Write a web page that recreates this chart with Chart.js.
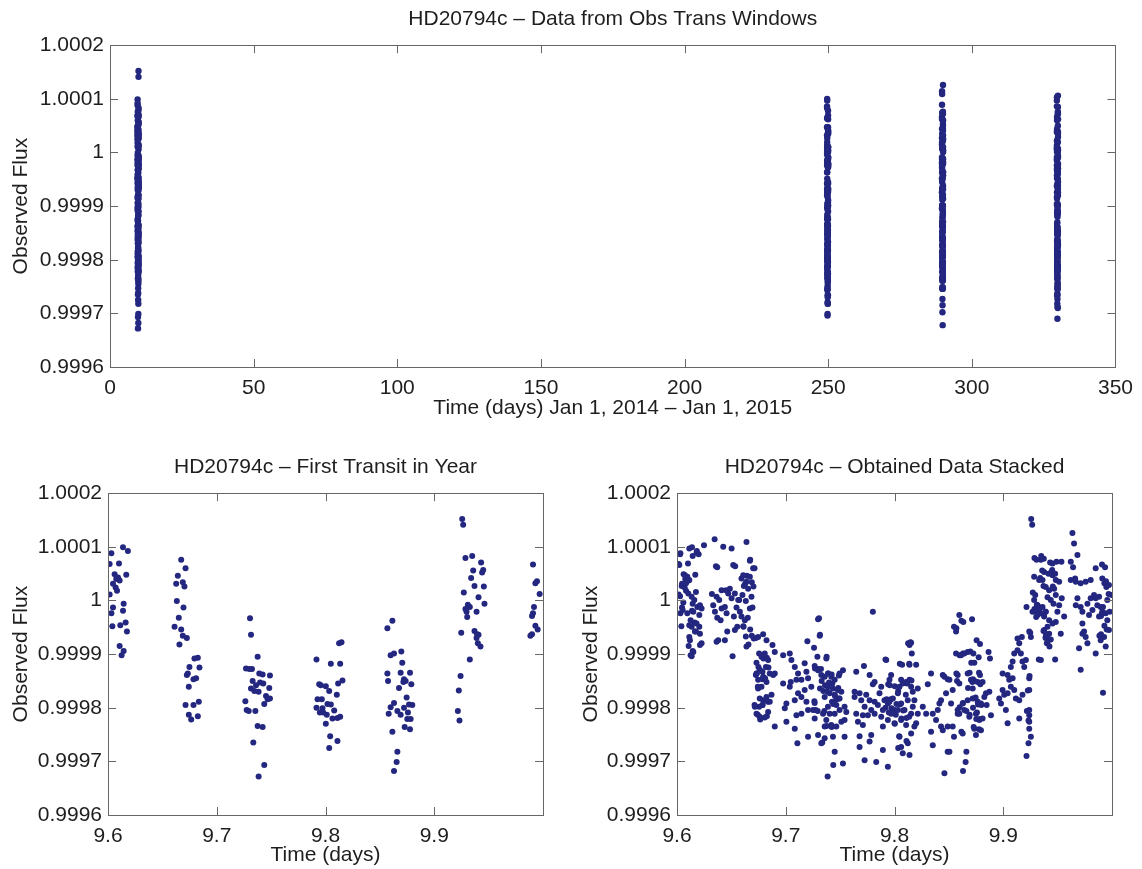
<!DOCTYPE html>
<html lang="en">
<head>
  <meta charset="UTF-8">
  <title>HD20794c transit data</title>
  <script src="https://cdn.jsdelivr.net/npm/chart.js"></script>
  <style>
    body {
      margin: 0;
      background: #fff;
      width: 1142px;
      height: 869px;
      position: relative;
      overflow: hidden;
    }
    canvas {
      position: absolute;
    }
  </style>
</head>
<body>
  <canvas id="yearChart" width="1142" height="422" style="left:0;top:0;"></canvas>
  <canvas id="firstChart" width="560" height="429" style="left:0;top:440px;"></canvas>
  <canvas id="stackChart" width="572" height="429" style="left:570px;top:440px;"></canvas>

  <script>
    // tick values
    const fluxTicks = [0.9996, 0.9997, 0.9998, 0.9999, 1, 1.0001, 1.0002];
    const yearTicks = [0, 50, 100, 150, 200, 250, 300, 350];
    const phaseTicks = [9.6, 9.7, 9.8, 9.9];

    // later observing windows start this many days after the first one
    const windowShift = [240, 280, 320];

    // [time in days, flux deviation in ppm]
    const firstTransit = [
      [9.6031,88],[9.6015,68],[9.6101,69],[9.6138,99],[9.6183,92],[9.6168,48],[9.6061,49],[9.6076,40],[9.6092,43],
      [9.6107,37],[9.6046,31],[9.6070,24],[9.6083,18],[9.6015,11],[9.6046,-13],[9.6031,-24],[9.6144,-6],[9.6138,-19],
      [9.6040,-48],[9.6113,-46],[9.6162,-41],[9.6174,-58],[9.6107,-85],[9.6144,-94],[9.6125,-102],
      [9.6673,76],[9.6713,60],[9.6642,46],[9.6627,31],[9.6688,34],[9.6703,26],[9.6633,-1],[9.6694,-13],[9.6651,-32],
      [9.6612,-49],[9.6673,-54],[9.6688,-66],[9.6725,-70],[9.6657,-82],[9.6826,-107],[9.6795,-108],[9.6841,-125],
      [9.6749,-124],[9.6734,-136],[9.6725,-139],[9.6810,-145],[9.6786,-147],[9.6743,-161],[9.6713,-195],[9.6786,-195],
      [9.6835,-189],[9.6743,-213],[9.6765,-222],[9.6826,-216],
      [9.7306,-33],[9.7315,-64],[9.7376,-105],[9.7269,-127],[9.7300,-128],[9.7324,-128],[9.7391,-136],[9.7422,-138],
      [9.7489,-140],[9.7330,-150],[9.7361,-158],[9.7398,-153],[9.7428,-155],[9.7483,-163],[9.7315,-164],[9.7346,-169],
      [9.7385,-170],[9.7453,-178],[9.7468,-184],[9.7489,-183],[9.7263,-188],[9.7294,-206],[9.7275,-204],[9.7355,-206],
      [9.7437,-193],[9.7376,-234],[9.7422,-236],[9.7336,-265],[9.7437,-307],[9.7385,-328],
      [9.7917,-110],[9.7942,-156],[9.7957,-158],[9.7927,-184],[9.7917,-200],[9.7948,-209],[9.7979,-209],[9.7966,-184],
      [9.7972,-201],[9.8003,-160],[9.8034,-169],[9.8018,-193],[9.8049,-194],[9.8012,-213],[9.8080,-205],[9.8064,-220],
      [9.8110,-219],[9.8135,-217],[9.8003,-230],[9.8043,-253],[9.8034,-275],[9.8110,-262],[9.8104,-176],[9.8049,-118],
      [9.8135,-118],[9.8116,-155],[9.8156,-149],[9.8125,-80],[9.8147,-78],
      [9.8569,-52],[9.8615,-38],[9.8599,-102],[9.8630,-99],[9.8697,-95],[9.8706,-116],[9.8569,-136],[9.8575,-150],
      [9.8691,-135],[9.8777,-135],[9.8722,-147],[9.8737,-150],[9.8676,-163],[9.8789,-156],[9.8716,-152],[9.8630,-191],
      [9.8599,-199],[9.8581,-211],[9.8661,-206],[9.8691,-213],[9.8746,-181],[9.8722,-200],[9.8768,-194],[9.8798,-195],
      [9.8758,-209],[9.8783,-221],[9.8752,-221],[9.8728,-236],[9.8777,-240],[9.8615,-245],[9.8661,-282],[9.8654,-301],
      [9.8630,-318],
      [9.9257,152],[9.9266,141],[9.9287,79],[9.9349,83],[9.9431,71],[9.9358,56],[9.9339,42],[9.9450,57],[9.9440,52],
      [9.9370,27],[9.9456,26],[9.9272,15],[9.9407,6],[9.9462,-6],[9.9287,-16],[9.9309,-8],[9.9297,-21],[9.9327,-12],
      [9.9303,-31],[9.9389,-21],[9.9370,-57],[9.9394,-63],[9.9407,-64],[9.9389,-70],[9.9401,-80],[9.9425,-86],
      [9.9248,-60],[9.9327,-110],[9.9242,-141],[9.9226,-168],[9.9217,-206],[9.9232,-224],
      [9.9908,67],[9.9945,36],[9.9930,32],[9.9969,12],[9.9917,-12],[9.9908,-24],[9.9899,-29],[9.9930,-47],
      [9.9951,-54],[9.9899,-63],[9.9884,-66]
    ];

    // the other three windows, folded onto the first one (taken in turn per window)
    const laterTransits = [
      [9.6425,100],[9.9636,126],[9.9651,106],[9.7526,-304],[9.8459,-322],[9.7939,-310],[9.7832,-301],[9.7725,-298],
      [9.9214,-290],[9.8489,-282],[9.6346,114],[9.6248,103],[9.6502,97],[9.6639,109],[9.9682,85],
      [9.6028,86],[9.6021,66],[9.6113,97],[9.6144,83],[9.6180,89],[9.6199,86],[9.6358,64],[9.6370,62],[9.6517,66],
      [9.6535,64],[9.6670,74],[9.6700,60],
      [9.6073,47],[9.6095,44],[9.6113,38],[9.6083,32],[9.6043,27],[9.6028,8],[9.6135,7],[9.6174,16],[9.6104,13],
      [9.6159,1],[9.6187,-12],[9.6211,-9],[9.6058,-4],[9.6052,-18],[9.6095,-24],[9.6150,-21],[9.6205,-27],[9.6226,-15],
      [9.6125,-37],[9.6135,-49],[9.6180,-43],[9.6165,-58],[9.6205,-49],[9.6211,-62],[9.6113,-68],[9.6119,-74],
      [9.6211,-83],[9.6226,-80],[9.6135,-104],[9.6150,-96],
      [9.6321,12],[9.6333,-9],[9.6364,7],[9.6388,1],[9.6349,-21],[9.6370,-32],[9.6410,-15],[9.6401,-37],[9.6440,-12],
      [9.6456,-24],[9.6471,13],[9.6486,22],[9.6450,19],[9.6410,19],[9.6502,4],[9.6532,13],[9.6523,-30],[9.6547,-13],
      [9.6572,1],[9.6578,-21],[9.6593,-30],[9.6554,-49],[9.6532,-55],[9.6609,-48],[9.6624,-37],[9.6633,-67],
      [9.6639,-86],[9.6364,-77],[9.6379,-74],[9.6440,-74],[9.6462,-58],[9.6511,-104],
      [9.6593,41],[9.6609,47],[9.6639,35],[9.6654,22],[9.6615,27],[9.6602,10],[9.6563,1],[9.6670,-15],[9.6685,7],
      [9.6670,44],
      [9.6706,-71],[9.6746,-68],[9.6792,-63],[9.6823,-74],[9.6878,-83],[9.6755,-99],[9.6777,-105],[9.6807,-99],
      [9.6838,-111],[9.6731,-116],[9.6761,-129],[9.6786,-133],[9.6817,-124],[9.6853,-136],[9.6884,-139],[9.6731,-136],
      [9.6746,-148],[9.6792,-142],[9.6823,-152],[9.6777,-161],[9.6746,-164],[9.6761,-183],[9.6792,-186],[9.6823,-180],
      [9.6853,-189],[9.6786,-195],[9.6755,-198],[9.6716,-198],[9.6731,-211],[9.6761,-217],[9.6807,-218],[9.6838,-208],
      [9.6869,-176],
      [9.6899,-96],[9.6899,-136],[9.6899,-235],[9.6976,-102],[9.7037,-99],[9.7052,-111],[9.7083,-124],[9.7113,-136],
      [9.7174,-117],[9.7190,-133],[9.7098,-148],[9.7046,-152],[9.7037,-161],[9.6976,-155],[9.7144,-148],[9.7205,-145],
      [9.7235,-161],[9.7174,-167],[9.7144,-180],[9.7113,-173],[9.7006,-192],[9.6991,-201],[9.7083,-186],[9.7190,-189],
      [9.7266,-191],[9.7251,-204],[9.7205,-204],[9.7098,-214],[9.7144,-211],[9.7266,-220],[9.7006,-226],[9.7083,-239],
      [9.7107,-266],[9.7205,-254],[9.7297,-251],[9.7327,-266],[9.7199,-76],[9.7260,-88],[9.7297,-35],[9.7312,-66],
      [9.7291,-105],[9.7373,-108],[9.7266,-122],[9.7297,-130],[9.7327,-139],
      [9.7358,-142],[9.7388,-136],[9.7419,-142],[9.7450,-148],[9.7495,-136],[9.7526,-130],[9.7388,-161],[9.7434,-164],
      [9.7480,-167],[9.7511,-170],[9.7404,-173],[9.7450,-176],[9.7358,-180],[9.7495,-183],[9.7425,-189],[9.7465,-195],
      [9.7388,-198],[9.7541,-198],[9.7343,-211],[9.7404,-211],[9.7450,-211],[9.7495,-204],[9.7557,-208],[9.7373,-223],
      [9.7419,-232],[9.7465,-235],[9.7511,-226],[9.7358,-235],[9.7541,-223],[9.7434,-254],[9.7358,-257],[9.7541,-254],
      [9.7450,-282],
      [9.7648,-133],[9.7719,-122],[9.7771,-139],[9.7817,-152],[9.7801,-156],[9.7633,-170],[9.7679,-173],[9.7740,-176],
      [9.7633,-180],[9.7694,-186],[9.7771,-186],[9.7817,-189],[9.7725,-198],[9.7648,-211],[9.7786,-204],[9.7709,-214],
      [9.7755,-214],[9.7817,-211],[9.7664,-226],[9.7709,-232],[9.7786,-251],[9.7679,-253],[9.7679,-273],[9.7771,-263],
      [9.7893,-279],[9.7801,-21],
      [9.7924,-111],[9.7969,-139],[9.7954,-148],[9.7878,-161],[9.7862,-173],[9.7908,-186],[9.7954,-189],[9.7847,-195],
      [9.7893,-204],[9.7939,-192],[9.7985,-183],[9.8000,-204],[9.7878,-217],[9.7939,-223],[9.7893,-235],[9.8000,-229],
      [9.7969,-211],[9.8046,-161],[9.8061,-148],[9.8076,-155],[9.8031,-173],[9.8107,-152],[9.8138,-148],[9.8153,-161],
      [9.8122,-186],[9.8061,-192],[9.8031,-204],[9.8092,-204],[9.8153,-211],[9.8061,-223],[9.8107,-232],[9.8153,-248],
      [9.8046,-254],[9.8061,-273],[9.8122,-266],[9.8076,-285],[9.8138,-288],[9.8070,-120],[9.8138,-120],[9.8199,-120],
      [9.8138,-83],[9.8153,-79],[9.8159,-99],
      [9.8168,-170],[9.8214,-164],[9.8183,-186],[9.8168,-198],[9.8214,-211],[9.8260,-198],[9.8199,-229],[9.8183,-235],
      [9.8291,-211],[9.8306,-156],[9.8336,-136],[9.8352,-211],[9.8398,-204],[9.8413,-192],[9.8428,-186],[9.8444,-139],
      [9.8459,-142],[9.8489,-147],[9.8474,-173],[9.8382,-223],[9.8428,-235],[9.8444,-242],[9.8489,-235],[9.8336,-245],
      [9.8352,-270],
      [9.8547,-49],[9.8566,-58],[9.8596,-27],[9.8633,-40],[9.8713,-35],[9.8755,-74],[9.8786,-81],[9.8566,-99],
      [9.8612,-102],[9.8642,-99],[9.8673,-96],[9.8725,-99],[9.8734,-116],[9.8774,-106],[9.8865,-96],[9.8878,-108],
      [9.8505,-148],[9.8535,-167],[9.8581,-139],[9.8596,-155],[9.8673,-136],[9.8703,-148],[9.8719,-164],[9.8765,-152],
      [9.8786,-139],[9.8810,-152],[9.8841,-173],[9.8872,-170],[9.8520,-192],[9.8581,-204],[9.8627,-192],[9.8673,-186],
      [9.8719,-183],[9.8765,-189],[9.8795,-192],[9.8826,-180],[9.8847,-195],[9.8596,-211],[9.8642,-204],[9.8688,-217],
      [9.8749,-211],[9.8780,-223],[9.8810,-220],[9.8887,-214],[9.8535,-235],[9.8547,-254],[9.8627,-248],[9.8734,-239],
      [9.8749,-251],[9.8795,-242],[9.8505,-282],
      [9.8963,-183],[9.8979,-192],[9.8994,-167],[9.9009,-176],[9.9040,-173],[9.8994,-136],[9.9040,-139],[9.9055,-148],
      [9.9086,-145],[9.9070,-161],[9.9101,-167],[9.9116,-183],[9.9147,-186],[9.9177,-176],[9.9024,-204],[9.9040,-229],
      [9.9147,-220],[9.9070,-124],[9.9086,-114],[9.9101,-99],[9.9131,-93],[9.9162,-99],[9.9177,-114],[9.9193,-124],
      [9.9208,-111],[9.9147,-80],[9.9131,-71],[9.9171,-68],[9.9239,-58],[9.9254,-68],[9.9214,-12],[9.9239,-145],
      [9.9239,-167],[9.9239,-204],[9.9239,-214],[9.9239,-226],[9.9239,-239],[9.9254,-254],[9.9232,-266],[9.9269,-21],
      [9.9284,1],[9.9294,10],[9.9284,44],[9.9306,76],
      [9.9315,-9],[9.9330,-18],[9.9346,-24],[9.9315,-27],[9.9361,-12],[9.9376,-30],[9.9391,-21],[9.9422,-37],
      [9.9407,-49],[9.9376,-55],[9.9422,-62],[9.9391,-68],[9.9437,-73],[9.9407,-79],[9.9346,-111],[9.9477,-110],
      [9.9453,-43],[9.9483,-40],[9.9498,-21],[9.9529,-62],[9.9514,-9],[9.9483,10],[9.9468,22],[9.9422,19],
      [9.9437,1],[9.9391,25],[9.9361,38],[9.9330,38],[9.9376,53],[9.9416,50],[9.9453,47],[9.9477,50],
      [9.9483,38],[9.9514,35],[9.9538,4],[9.9560,-30],[9.9453,69],[9.9489,72],[9.9535,72],[9.9373,78],[9.9346,76],
      [9.9621,72],[9.9642,62],[9.9661,41],[9.9621,38],[9.9667,35],[9.9712,32],[9.9758,35],[9.9804,38],
      [9.9850,60],[9.9936,62],[9.9911,41],[9.9948,25],[9.9972,29],[9.9997,10],[9.9682,4],[9.9667,-9],
      [9.9712,-12],[9.9728,-21],[9.9774,-6],[9.9804,4],[9.9820,-18],[9.9850,4],[9.9865,-9],[9.9896,-12],
      [9.9911,-21],[9.9942,-24],[9.9957,-37],[9.9972,-55],[9.9927,-68],[9.9942,-86],[9.9896,-74],[9.9850,-99],
      [9.9758,-68],[9.9774,-80],[9.9743,-58],[9.9728,-43],[9.9728,-62],[9.9697,-89],[9.9712,-129],[9.9917,-172],
      [9.9789,-27],[9.9835,10],[9.9881,-30],[9.9979,-21],[9.9957,1],[9.9881,7]
    ];

    const DOT = '#24277f';
    const INK = '#1e1e1e';
    const FRAME = '#666';
    const FONT = "'Liberation Sans', Arial, sans-serif";

    const toPoint = (p, shift) => ({ x: p[0] + shift, y: 1 + p[1] / 1e6 });
    const fmtFlux = v => Number(v.toFixed(4)).toString();

    // box round the plot with short ticks pointing inwards, matlab style
    const matlabFrame = {
      id: 'matlabFrame',
      afterDatasetsDraw(chart) {
        const { ctx, chartArea: a, scales: { x, y } } = chart;
        const len = 8;
        ctx.save();
        ctx.strokeStyle = FRAME;
        ctx.lineWidth = 1;
        ctx.strokeRect(Math.round(a.left) + 0.5, Math.round(a.top) + 0.5,
          Math.round(a.width), Math.round(a.height));
        ctx.beginPath();
        x.ticks.forEach(t => {
          const px = Math.round(x.getPixelForValue(t.value)) + 0.5;
          ctx.moveTo(px, a.bottom); ctx.lineTo(px, a.bottom - len);
          ctx.moveTo(px, a.top); ctx.lineTo(px, a.top + len);
        });
        y.ticks.forEach(t => {
          const py = Math.round(y.getPixelForValue(t.value)) + 0.5;
          ctx.moveTo(a.left, py); ctx.lineTo(a.left + len, py);
          ctx.moveTo(a.right, py); ctx.lineTo(a.right - len, py);
        });
        ctx.stroke();
        ctx.restore();
      }
    };

    function makeChart(id, cfg) {
      const ctx = document.getElementById(id).getContext('2d');
      return new Chart(ctx, {
        type: 'scatter',
        data: {
          datasets: [{
            data: cfg.points,
            pointRadius: cfg.radius,
            pointBackgroundColor: DOT,
            pointBorderWidth: 0,
            showLine: false
          }]
        },
        options: {
          responsive: false,
          animation: false,
          devicePixelRatio: 1,
          layout: { padding: { left: 0, right: cfg.padRight, top: 0, bottom: 0 } },
          plugins: {
            legend: { display: false },
            tooltip: { enabled: false },
            title: {
              display: true,
              text: cfg.title,
              color: INK,
              fullSize: false,
              font: { family: FONT, size: 21, weight: 'normal', lineHeight: 1.2 },
              padding: { top: cfg.titleTop, bottom: cfg.titleBottom }
            }
          },
          scales: {
            x: {
              type: 'linear',
              min: cfg.xMin,
              max: cfg.xMax,
              afterBuildTicks: s => { s.ticks = cfg.xTicks.map(v => ({ value: v })); },
              afterFit: s => { s.height = cfg.xHeight; },
              grid: { display: false, drawTicks: false },
              border: { display: false },
              ticks: {
                color: INK,
                padding: 9,
                autoSkip: false,
                maxRotation: 0,
                font: { family: FONT, size: 21 },
                callback: v => String(v)
              },
              title: {
                display: true,
                text: cfg.xTitle,
                color: INK,
                font: { family: FONT, size: 21, lineHeight: 1.2 },
                padding: { top: 0, bottom: 1 }
              }
            },
            y: {
              type: 'linear',
              min: 0.9996,
              max: 1.0002,
              afterBuildTicks: s => { s.ticks = fluxTicks.map(v => ({ value: v })); },
              afterFit: s => { s.width = cfg.yWidth; },
              grid: { display: false, drawTicks: false },
              border: { display: false },
              ticks: {
                color: INK,
                padding: 6,
                autoSkip: false,
                font: { family: FONT, size: 21 },
                callback: v => fmtFlux(v)
              },
              title: {
                display: true,
                text: 'Observed Flux',
                color: INK,
                font: { family: FONT, size: 21, lineHeight: 1.2 },
                padding: { top: 9, bottom: 0 }
              }
            }
          }
        },
        plugins: [matlabFrame]
      });
    }

    const yearPoints = firstTransit.map(p => toPoint(p, 0))
      .concat(laterTransits.map((p, i) => toPoint(p, windowShift[i % windowShift.length])));
    const firstPoints = firstTransit.map(p => toPoint(p, 0));
    const stackPoints = firstTransit.concat(laterTransits).map(p => toPoint(p, 0));

    makeChart('yearChart', {
      points: yearPoints,
      radius: 3.2,
      title: 'HD20794c \u2013 Data from Obs Trans Windows',
      xTitle: 'Time (days) Jan 1, 2014 \u2013 Jan 1, 2015',
      xMin: 0, xMax: 350, xTicks: yearTicks,
      padRight: 24, yWidth: 110, xHeight: 55,
      titleTop: 7, titleBottom: 13
    });

    makeChart('firstChart', {
      points: firstPoints,
      radius: 3,
      title: 'HD20794c \u2013 First Transit in Year',
      xTitle: 'Time (days)',
      xMin: 9.6, xMax: 10.0, xTicks: phaseTicks,
      padRight: 17, yWidth: 108, xHeight: 54,
      titleTop: 15, titleBottom: 13
    });

    makeChart('stackChart', {
      points: stackPoints,
      radius: 3,
      title: 'HD20794c \u2013 Obtained Data Stacked',
      xTitle: 'Time (days)',
      xMin: 9.6, xMax: 10.0, xTicks: phaseTicks,
      padRight: 30, yWidth: 107, xHeight: 54,
      titleTop: 15, titleBottom: 13
    });
  </script>
</body>
</html>
